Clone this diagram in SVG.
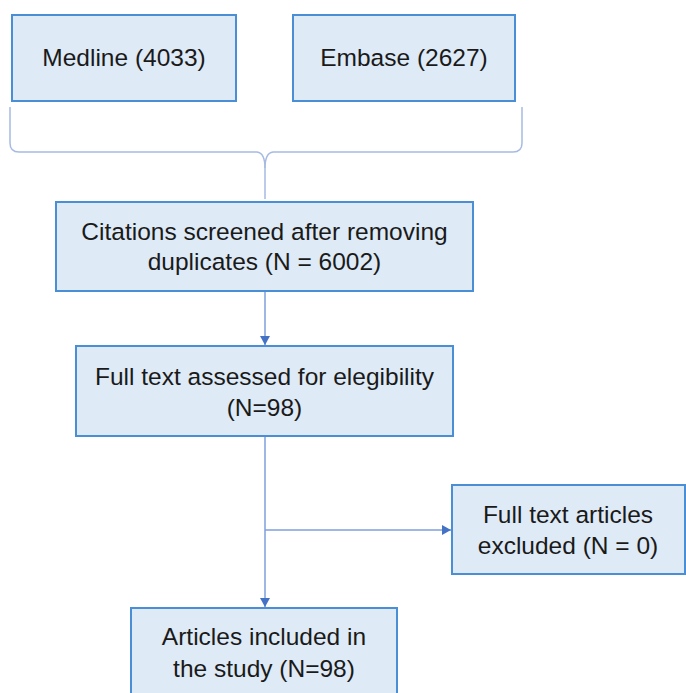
<svg xmlns="http://www.w3.org/2000/svg" width="686" height="693" viewBox="0 0 686 693">
<style>
.box{fill:#deeaf6;stroke:#4a8fd6;stroke-width:2}
.t{font-family:"Liberation Sans",Arial,sans-serif;font-size:24.5px;fill:#1a1a1a;text-anchor:middle}
.c{fill:none;stroke:#7e9fdb;stroke-width:1.5}
.br{fill:none;stroke:#a7bbe2;stroke-width:1.5}
</style>
<defs>
<marker id="ah" markerWidth="10" markerHeight="10" refX="9" refY="5" orient="auto" markerUnits="userSpaceOnUse">
<path d="M0,0 L9,5 L0,10 Z" fill="#4472c4"/>
</marker>
</defs>
<rect width="686" height="693" fill="#fff"/>
<g id="connectors">
<path class="br" d="M10,107 L10,143 Q10,152 19,152 L257,152 Q265,153 265,168 L265,199"/>
<path class="br" d="M265,168 Q265,153 273,152 L513,152 Q522,152 522,143 L522,107"/>
<line class="c" x1="265" y1="291" x2="265" y2="345" marker-end="url(#ah)"/>
<line class="c" x1="265" y1="436" x2="265" y2="607" marker-end="url(#ah)"/>
<line class="c" x1="265" y1="530" x2="451" y2="530" marker-end="url(#ah)"/>
</g>
<g id="medline">
<rect class="box" x="12" y="15" width="224" height="86"/>
<text class="t" x="124" y="66">Medline (4033)</text>
</g>
<g id="embase">
<rect class="box" x="293" y="15" width="222" height="86"/>
<text class="t" x="404" y="66">Embase (2627)</text>
</g>
<g id="citations">
<rect class="box" x="56" y="202" width="417" height="89"/>
<text class="t" x="264.5" y="240">Citations screened after removing</text>
<text class="t" x="264.5" y="270">duplicates (N = 6002)</text>
</g>
<g id="fulltext">
<rect class="box" x="76" y="346" width="377" height="90"/>
<text class="t" x="264.5" y="385">Full text assessed for elegibility</text>
<text class="t" x="264.5" y="416">(N=98)</text>
</g>
<g id="excluded">
<rect class="box" x="452" y="485" width="233" height="89"/>
<text class="t" x="568" y="523">Full text articles</text>
<text class="t" x="568" y="554">excluded (N = 0)</text>
</g>
<g id="included">
<rect class="box" x="131" y="608" width="266" height="95"/>
<text class="t" x="264" y="645">Articles included in</text>
<text class="t" x="264" y="677">the study (N=98)</text>
</g>
</svg>
